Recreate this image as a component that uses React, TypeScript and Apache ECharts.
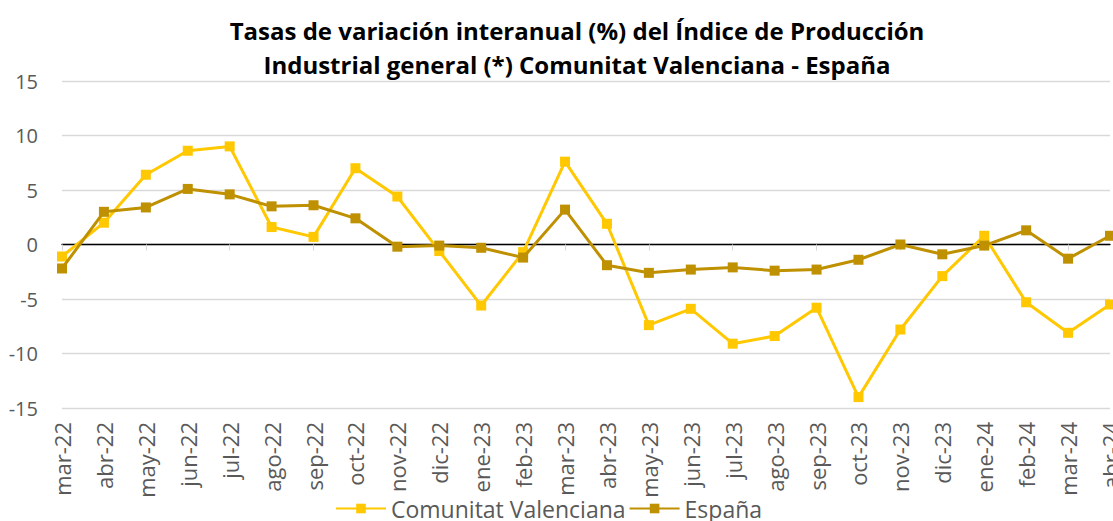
import React, { useEffect, useRef } from "react";
import * as echarts from "echarts";

const categories = [
  "mar-22", "abr-22", "may-22", "jun-22", "jul-22", "ago-22", "sep-22", "oct-22", "nov-22", "dic-22",
  "ene-23", "feb-23", "mar-23", "abr-23", "may-23", "jun-23", "jul-23", "ago-23", "sep-23", "oct-23",
  "nov-23", "dic-23", "ene-24", "feb-24", "mar-24", "abr-24",
];

const comunitatValenciana = [
  -1.1, 2.0, 6.4, 8.6, 9.0, 1.6, 0.7, 7.0, 4.4, -0.6,
  -5.6, -0.7, 7.6, 1.9, -7.4, -5.9, -9.1, -8.4, -5.8, -14.0,
  -7.8, -2.9, 0.8, -5.3, -8.1, -5.5,
];

const espana = [
  -2.2, 3.0, 3.4, 5.1, 4.6, 3.5, 3.6, 2.4, -0.2, -0.1,
  -0.3, -1.2, 3.2, -1.9, -2.6, -2.3, -2.1, -2.4, -2.3, -1.4,
  0.0, -0.9, -0.1, 1.3, -1.3, 0.8,
];

const yTicks = { min: -15, max: 15, interval: 5 };

const titleText =
  "Tasas de variación interanual (%) del Índice de Producción\nIndustrial general (*) Comunitat Valenciana - España";

const FONT = "'Open Sans', 'Noto Sans', sans-serif";

export default function App() {
  const ref = useRef<HTMLDivElement>(null);
  useEffect(() => {
    if (!ref.current) return;
    const chart = echarts.init(ref.current, null, { renderer: "svg" });
    chart.setOption({
      animation: false,
      backgroundColor: "#ffffff",
      graphic: [
        {
          type: "text",
          x: 577,
          y: 13,
          style: {
            text: titleText,
            textAlign: "center",
            fontFamily: FONT,
            fontWeight: "bold",
            fontSize: 24,
            lineHeight: 34,
            fill: "#000000",
          },
        },
      ],
      legend: {
        bottom: -4,
        left: 330,
        itemWidth: 50,
        itemHeight: 12,
        itemGap: 3,
        textStyle: { fontFamily: FONT, fontSize: 23, color: "#595959" },
        data: ["Comunitat Valenciana", "España"],
      },
      grid: { left: 62, right: 3, top: 81, bottom: 113, containLabel: false, outerBoundsMode: "none" },
      xAxis: [
        {
          type: "category",
          data: categories,
          boundaryGap: false,
          axisLine: { onZero: true, lineStyle: { color: "#000000", width: 1.3 } },
          axisTick: { show: true, length: 6, alignWithLabel: true, lineStyle: { color: "#d9d9d9", width: 1 } },
          axisLabel: { show: false },
          splitLine: { show: false },
        },
        {
          type: "category",
          data: categories,
          boundaryGap: false,
          position: "bottom",
          axisLine: { show: false, onZero: false },
          axisTick: { show: false },
          axisLabel: {
            rotate: 90,
            margin: 14,
            interval: 0,
            fontFamily: FONT,
            fontSize: 22,
            color: "#595959",
            hideOverlap: false,
          },
          splitLine: { show: false },
        },
      ],
      yAxis: {
        type: "value",
        min: yTicks.min,
        max: yTicks.max,
        interval: yTicks.interval,
        axisLine: { show: false },
        axisTick: { show: false },
        axisLabel: { fontFamily: FONT, fontSize: 20, color: "#595959", margin: 24 },
        splitLine: { lineStyle: { color: "#d9d9d9", width: 1.3 } },
      },
      series: [
        {
          name: "Comunitat Valenciana",
          type: "line",
          data: comunitatValenciana,
          symbol: "rect",
          symbolSize: 10,
          lineStyle: { color: "#FFC800", width: 3 },
          itemStyle: { color: "#FFC800" },
          z: 2,
        },
        {
          name: "España",
          type: "line",
          data: espana,
          symbol: "rect",
          symbolSize: 10,
          lineStyle: { color: "#BF9000", width: 3 },
          itemStyle: { color: "#BF9000" },
          z: 3,
        },
      ],
    });
    return () => chart.dispose();
  }, []);
  return <div ref={ref} style={{ width: 1113, height: 521, position: "absolute", left: 0, top: 0 }} />;
}
